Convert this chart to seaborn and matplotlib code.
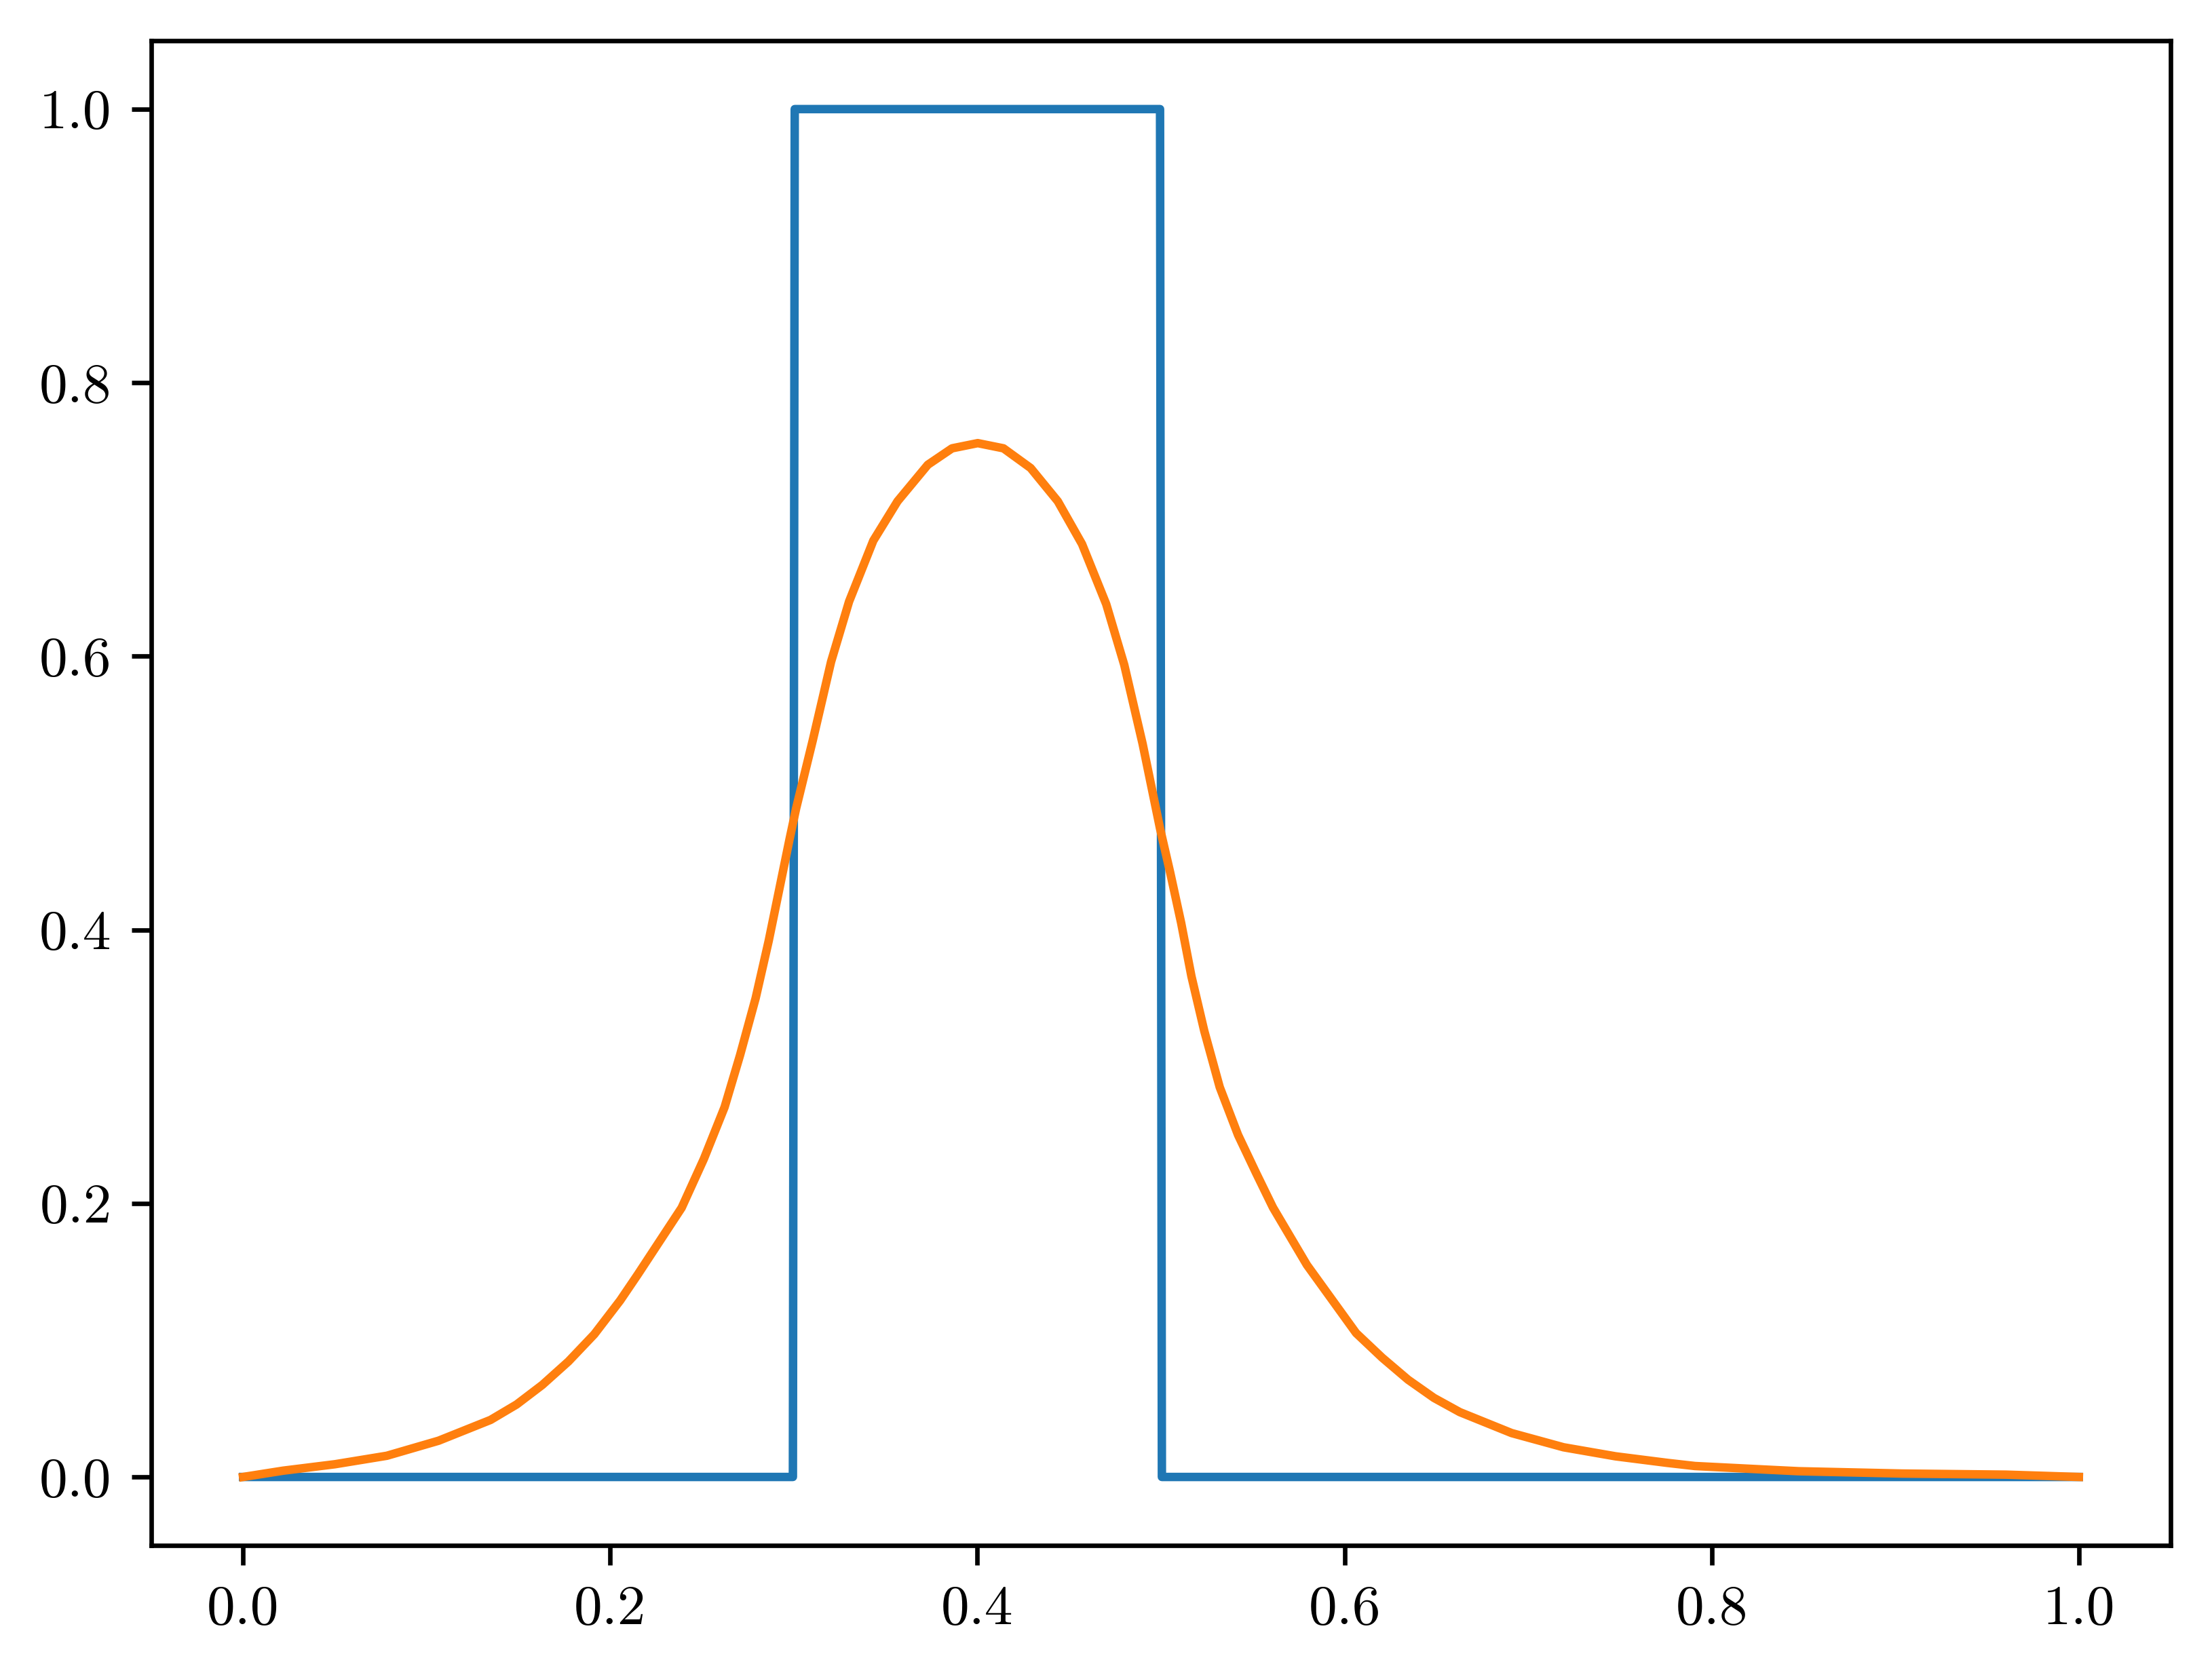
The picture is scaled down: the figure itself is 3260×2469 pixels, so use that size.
import matplotlib
matplotlib.use("Agg")
import matplotlib.pyplot as plt
import seaborn as sns

# initial condition: box between 0.3 and 0.5
box_x = [0.0, 0.2995, 0.3005, 0.4995, 0.5005, 1.0]
box_y = [0.0, 0.0, 1.0, 1.0, 0.0, 0.0]

# smoothed profile
smooth_x = [0.0, 0.0218, 0.050, 0.0783, 0.1065, 0.1348, 0.149, 0.163, 0.1772, 0.1913,
            0.2054, 0.215, 0.2389, 0.251, 0.2623, 0.2707, 0.2792, 0.2863, 0.2918, 0.2976,
            0.3013, 0.3103, 0.3203, 0.3301, 0.3433, 0.3565, 0.373, 0.3862, 0.4002, 0.4142,
            0.429, 0.4438, 0.457, 0.4702, 0.480, 0.490, 0.4995, 0.505, 0.511, 0.5166,
            0.5236, 0.532, 0.542, 0.5519, 0.561, 0.5795, 0.6063, 0.6205, 0.6346, 0.6487,
            0.6628, 0.691, 0.7193, 0.7476, 0.7758, 0.7909, 0.8278, 0.8474, 0.9038, 0.9603,
            1.0]
smooth_y = [0.0, 0.0046, 0.0093, 0.0155, 0.0265, 0.0417, 0.053, 0.0673, 0.0844, 0.1043,
            0.129, 0.148, 0.1968, 0.2325, 0.2704, 0.3083, 0.350, 0.3918, 0.4278, 0.4658,
            0.489, 0.5384, 0.596, 0.640, 0.6845, 0.7133, 0.740, 0.752, 0.7558, 0.752,
            0.7376, 0.7133, 0.682, 0.638, 0.5937, 0.536, 0.474, 0.442, 0.405, 0.366,
            0.326, 0.285, 0.250, 0.222, 0.197, 0.155, 0.1052, 0.0872, 0.0711, 0.0578,
            0.0474, 0.0321, 0.0217, 0.0151, 0.0103, 0.008, 0.0055, 0.0042, 0.0025, 0.0017,
            0.0]

plt.rcParams["font.family"] = "serif"
plt.rcParams["font.serif"] = ["cmr10"]
plt.rcParams["mathtext.fontset"] = "cm"
plt.rcParams["axes.formatter.use_mathtext"] = True

fig = plt.figure(figsize=(3260 / 600, 2469 / 600), dpi=600)
ax = fig.add_axes([0.0684, 0.0774, 0.9129, 0.8983])

sns.lineplot(x=box_x, y=box_y, ax=ax, color="#1f77b4", linewidth=1.5, sort=False)
sns.lineplot(x=smooth_x, y=smooth_y, ax=ax, color="#ff7f0e", linewidth=1.5, sort=False)

ax.set_xlim(-0.05, 1.05)
ax.set_ylim(-0.05, 1.05)
ticks = [0.0, 0.2, 0.4, 0.6, 0.8, 1.0]
tick_labels = ["0.0", "0.2", "0.4", "0.6", "0.8", "1.0"]
ax.set_xticks(ticks)
ax.set_yticks(ticks)
ax.set_xticklabels(tick_labels)
ax.set_yticklabels(tick_labels)

fig.savefig("out.png", dpi=600)
